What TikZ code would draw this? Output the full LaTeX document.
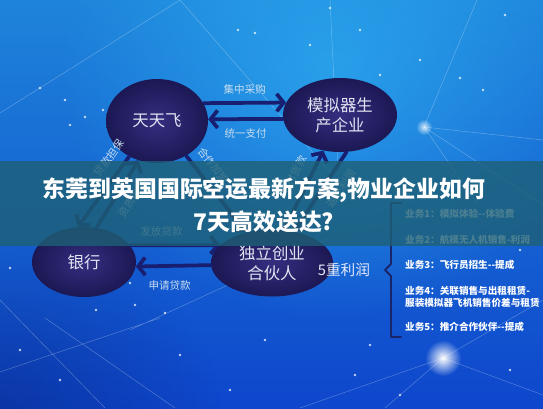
\documentclass[tikz,border=0pt]{standalone}
\usepackage{fontspec}
\setmainfont{Noto Sans CJK SC}
\usetikzlibrary{shapes.geometric,arrows.meta,fadings}
\tikzfading[name=glow,inner color=transparent!0,outer color=transparent!100]
\definecolor{navyin}{RGB}{52,46,128}
\definecolor{navyout}{RGB}{28,24,84}
\definecolor{arrowblue}{RGB}{24,30,112}
\definecolor{banner}{RGB}{30,96,118}
\definecolor{bgtop}{RGB}{30,132,218}
\definecolor{bgbot}{RGB}{14,70,204}
\definecolor{bglight}{RGB}{48,180,244}
\definecolor{bgdark}{RGB}{8,36,128}
\definecolor{bracket}{RGB}{26,36,104}
\begin{document}
\begin{tikzpicture}[x=0.3mm,y=-0.3mm,line cap=round,line join=round,
	oval/.style={ellipse,inner sep=0pt,inner color=navyin,outer color=navyout,text={rgb,255:red,226;green,228;blue,242},font=\fontsize{14}{17}\selectfont,align=center},
	arr/.style={draw=arrowblue,line width=3.2pt,-{Straight Barb[length=6pt,width=15pt]}},
	lbl/.style={font=\fontsize{9}{10}\selectfont,text={rgb,255:red,200;green,222;blue,240}},
	biz/.style={anchor=west,font=\bfseries\fontsize{8.2}{10}\selectfont,text=white,align=left}]
	\useasboundingbox (0,0) rectangle (543,408);
	\clip (0,0) rectangle (543,408);
	\shade[top color=bgtop,bottom color=bgbot] (0,0) rectangle (543,408);
	\fill[bglight,opacity=0.65,path fading=glow] (60,-180) rectangle (600,320);
	\fill[bgdark,opacity=0.5,path fading=glow] (-220,230) rectangle (220,600);
	% network
	\draw[white,opacity=0.3,line width=0.4pt] (0,113)--(180,0)--(335,178) (330,0)--(338,165)
		(477,0)--(424,127)--(543,140) (424,127)--(543,205) (424,127)--(478,205)
		(0,300)--(105,408) (45,318)--(175,408) (130,330)--(330,238) (0,372)--(160,318)
		(443,358)--(543,300) (443,358)--(385,408) (300,408)--(443,358) (443,358)--(543,395);
	\foreach \p in {(238,30),(255,33),(310,45),(330,8),(360,30),(380,75),(420,60),(460,78),(483,90),(505,15),
		(40,88),(65,100),(85,117),(103,110),(70,125),(10,268),(130,283),(96,310),(135,305),(165,313),
		(180,355),(230,390),(265,340),(355,375),(400,395),(370,345),(510,370),(60,380),(20,350),(520,250)}
		\fill[white,opacity=0.75] \p circle (1.4);
	\fill[white,opacity=0.8,path fading=glow] (424,127) circle (8);
	\fill[white,path fading=glow] (443,358) circle (18);
	% nodes
	\node[oval,minimum width=30.6mm,minimum height=25.2mm] (tf) at (157,121) {天天飞};
	\node[oval,minimum width=34.2mm,minimum height=22.2mm] (mn) at (340,115) {模拟器生\\产企业};
	\node[oval,minimum width=31.2mm,minimum height=21mm] (bk) at (84,262) {银行};
	\node[oval,minimum width=36.6mm,minimum height=20.1mm] (hr) at (272,263) {独立创业\\合伙人};
	% connectors
	\draw[arr] (tf.21) -- node[lbl,above=2pt] {集中采购} (mn.167);
	\draw[arr] (mn.184) -- node[lbl,below=3pt] {统一支付} (tf.2);
	\draw[arr] (bk.20) -- node[lbl,above=3pt,pos=0.35] {发放贷款} (hr.161);
	\draw[arr] (hr.182) -- node[lbl,below=8pt,pos=0.55] {申请贷款} (bk.-5);
	\draw[arr] (tf.232) -- node[lbl,sloped,above=4pt,pos=0.15] {贷款担保} (bk.100);
	\draw[arr] (bk.70) -- node[lbl,sloped,below=4pt,pos=0.55] {资质审核} (tf.245);
	\draw[arr] (tf.-50) -- node[lbl,sloped,above=4pt,pos=0.25] {合作加盟} (hr.130);
	\draw[arr] (hr.70) -- node[lbl,sloped,above=4pt,pos=0.6] {支付货款} (mn.245);
	\draw[arr] (mn.280) -- node[lbl,sloped,below=4pt,pos=0.35] {返还利润} (hr.55);
	% five profits
	\node[font=\fontsize{12.5}{14}\selectfont,text={rgb,255:red,230;green,234;blue,248}] (five) at (344,270) {5重利润};
	\draw[bracket,line width=1.6pt] (401,203)--(391,203)--(391,264)--(385,270)--(391,276)--(391,337)--(401,337);
	\node[biz] (b1) at (401,214) {业务1：模拟体验-{}-体验费};
	\node[biz] (b2) at (401,240) {业务2：航模无人机销售-利润};
	\node[biz] (b3) at (401,265) {业务3：飞行员招生-{}-提成};
	\node[biz] (b4) at (401,297) {业务4：关联销售与出租租赁-\\服装模拟器飞机销售价差与租赁};
	\node[biz] (b5) at (401,327) {业务5：推介合作伙伴-{}-提成};
	% title banner
	\fill[banner,opacity=0.8] (0,161) rectangle (543,246);
	\node[font=\bfseries\fontsize{19.5}{22}\selectfont,text=white] (t1) at (264,190) {东莞到英国国际空运最新方案,物业企业如何};
	\node[font=\bfseries\fontsize{19.5}{22}\selectfont,text=white] (t2) at (264,222) {7天高效送达?};
\end{tikzpicture}
\end{document}
